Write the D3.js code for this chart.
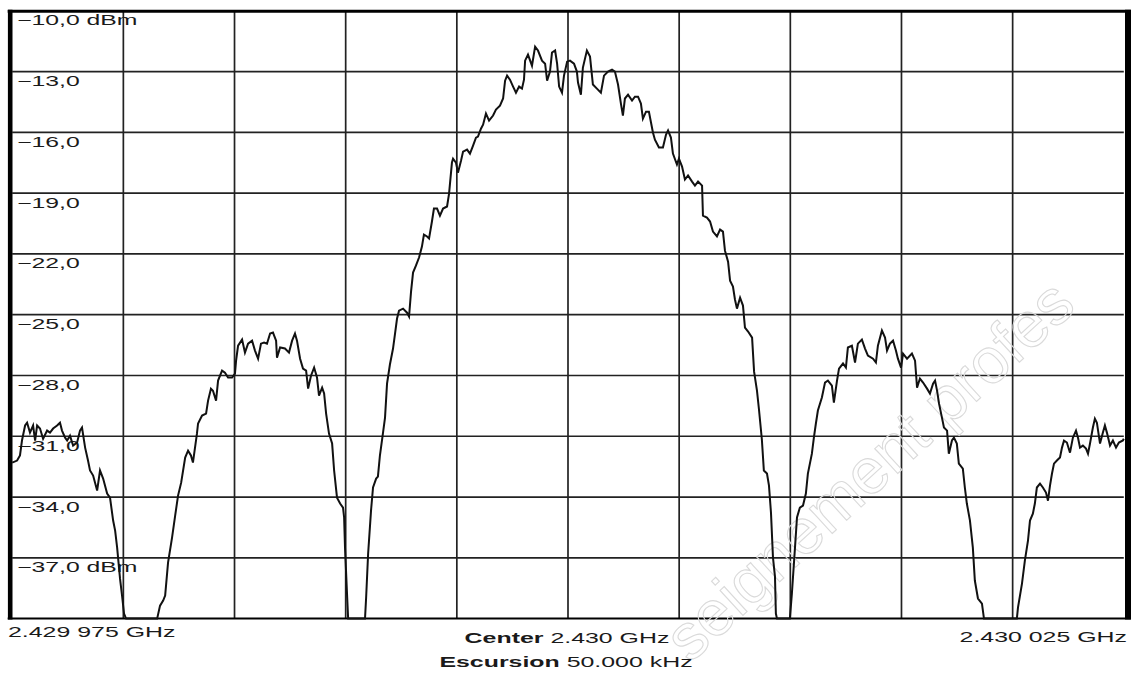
<!DOCTYPE html>
<html>
<head>
<meta charset="utf-8">
<script src="https://cdn.jsdelivr.net/npm/d3@7"></script>
<style>
    body { margin: 0; background: #fff; }
    svg text { font-family: "Liberation Sans", Arial, sans-serif; fill: #1a1a1a; }
</style>
</head>
<body>
<div id="carta"></div>
<script>
// sweep: offset from center in kHz, level in dBm
let freqKHz = [
    -25.00,-24.78,-24.65,-24.56,-24.42,-24.33,-24.20,-24.06,-23.97,-23.88,
    -23.75,-23.61,-23.43,-23.30,-23.16,-22.98,-22.85,-22.76,-22.62,-22.53,
    -22.40,-22.26,-22.08,-21.95,-21.86,-21.72,-21.59,-21.50,-21.36,-21.18,
    -21.05,-20.91,-20.73,-20.60,-20.46,-20.37,-20.28,-20.15,-20.06,-19.97,
    -19.88,-18.48,-18.35,-18.21,-18.12,-17.99,-17.81,-17.67,-17.54,-17.40,
    -17.22,-17.09,-16.96,-16.87,-16.69,-16.64,-16.46,-16.28,-16.19,-16.06,
    -15.97,-15.83,-15.74,-15.56,-15.43,-15.29,-15.11,-14.98,-14.93,-14.84,
    -14.66,-14.53,-14.39,-14.21,-14.08,-13.94,-13.81,-13.67,-13.54,-13.40,
    -13.27,-13.13,-13.09,-12.95,-12.73,-12.55,-12.41,-12.28,-12.19,-12.05,
    -11.92,-11.78,-11.69,-11.56,-11.42,-11.29,-11.20,-11.06,-10.97,-10.88,
    -10.75,-10.61,-10.52,-10.39,-10.25,-10.12,-10.07,-10.03,-9.94,-9.89,
    -9.13,-9.08,-8.99,-8.86,-8.77,-8.63,-8.55,-8.46,-8.32,-8.23,
    -8.14,-8.01,-7.87,-7.78,-7.69,-7.60,-7.42,-7.24,-7.15,-7.06,
    -6.97,-6.84,-6.70,-6.57,-6.48,-6.34,-6.25,-6.12,-6.03,-5.89,
    -5.76,-5.62,-5.44,-5.35,-5.22,-5.17,-5.04,-4.95,-4.81,-4.72,
    -4.54,-4.41,-4.27,-4.14,-4.05,-3.91,-3.82,-3.69,-3.55,-3.37,
    -3.24,-3.06,-2.92,-2.83,-2.74,-2.61,-2.47,-2.34,-2.20,-2.07,
    -1.98,-1.93,-1.80,-1.62,-1.48,-1.35,-1.17,-1.03,-0.94,-0.81,
    -0.72,-0.58,-0.49,-0.40,-0.27,-0.18,-0.04,0.09,0.27,0.40,
    0.45,0.58,0.67,0.85,0.99,1.12,1.30,1.48,1.62,1.80,
    1.98,2.11,2.25,2.38,2.47,2.56,2.70,2.88,3.01,3.15,
    3.28,3.37,3.51,3.64,3.82,3.91,4.09,4.27,4.41,4.50,
    4.63,4.72,4.90,4.99,5.13,5.26,5.40,5.58,5.71,5.85,
    6.03,6.07,6.25,6.39,6.52,6.70,6.84,6.97,7.06,7.20,
    7.29,7.42,7.51,7.60,7.74,7.87,7.96,8.10,8.28,8.37,
    8.50,8.59,8.72,8.81,8.95,9.04,9.13,9.22,9.31,9.35,
    9.40,9.98,10.07,10.21,10.30,10.43,10.57,10.70,10.79,10.97,
    11.06,11.15,11.24,11.42,11.56,11.69,11.87,11.96,12.10,12.19,
    12.37,12.50,12.59,12.77,12.91,13.04,13.22,13.36,13.49,13.72,
    13.85,13.94,14.12,14.26,14.35,14.48,14.62,14.75,14.84,14.98,
    15.07,15.25,15.47,15.61,15.70,15.83,15.97,16.15,16.28,16.42,
    16.51,16.60,16.69,16.82,16.91,17.05,17.13,17.27,17.36,17.49,
    17.58,17.76,17.85,17.94,18.08,18.21,18.30,18.44,18.62,18.71,
    20.19,20.24,20.42,20.55,20.69,20.78,20.91,21.00,21.09,21.23,
    21.36,21.50,21.59,21.68,21.77,21.86,21.99,22.13,22.22,22.31,
    22.44,22.58,22.71,22.85,22.94,23.03,23.16,23.30,23.39,23.48,
    23.61,23.70,23.79,23.93,24.06,24.15,24.24,24.38,24.51,24.65,
    24.78,24.96,25.00
]
let levelDbm = [
    -32.30,-32.20,-31.95,-31.21,-30.47,-30.33,-30.82,-30.47,-31.21,-30.47,
    -30.62,-31.12,-30.72,-30.82,-30.62,-30.47,-30.33,-30.72,-31.07,-31.21,
    -30.97,-31.46,-31.31,-30.72,-30.57,-31.56,-32.20,-32.69,-32.94,-33.68,
    -32.69,-33.09,-33.83,-34.03,-35.16,-35.66,-36.50,-38.03,-38.86,-39.75,
    -40.00,-40.00,-39.36,-39.11,-38.86,-37.24,-36.00,-34.92,-33.93,-33.29,
    -32.05,-31.71,-31.95,-32.30,-30.87,-30.37,-29.98,-29.88,-29.24,-28.65,
    -28.75,-29.24,-28.25,-27.76,-27.86,-28.10,-28.10,-27.91,-27.27,-26.53,
    -26.23,-26.87,-26.43,-26.28,-26.77,-27.17,-26.43,-26.38,-26.43,-25.93,
    -25.88,-26.28,-27.12,-26.62,-26.67,-26.87,-26.28,-25.93,-26.28,-27.17,
    -27.66,-27.76,-28.65,-28.01,-27.61,-28.10,-28.99,-28.60,-28.89,-29.88,
    -30.87,-31.36,-32.69,-34.03,-34.32,-34.52,-35.01,-36.50,-38.77,-40.00,
    -40.00,-38.96,-36.79,-34.67,-33.53,-33.09,-32.99,-31.95,-30.82,-30.08,
    -28.40,-27.46,-26.67,-25.93,-25.19,-24.80,-24.70,-24.90,-25.09,-23.86,
    -22.92,-22.58,-22.18,-21.64,-21.05,-21.14,-21.24,-20.40,-19.76,-19.76,
    -20.11,-19.76,-19.66,-19.02,-17.49,-17.30,-17.49,-17.99,-17.39,-16.95,
    -16.85,-17.05,-16.65,-16.26,-16.21,-15.81,-15.62,-15.07,-15.42,-15.17,
    -14.88,-14.68,-14.33,-13.45,-13.20,-13.40,-13.74,-14.04,-13.74,-13.84,
    -13.40,-12.46,-12.16,-12.71,-11.77,-11.96,-12.46,-12.61,-13.45,-13.00,
    -12.06,-11.96,-12.61,-13.74,-14.04,-13.20,-12.51,-12.46,-12.61,-13.00,
    -13.54,-14.14,-12.80,-11.96,-12.26,-13.64,-13.84,-14.04,-13.20,-13.00,
    -12.90,-13.00,-13.64,-14.58,-15.17,-14.33,-14.14,-14.43,-14.24,-14.24,
    -14.58,-15.32,-14.98,-14.98,-16.01,-16.36,-16.75,-16.75,-16.11,-15.91,
    -16.26,-17.05,-17.59,-17.30,-17.69,-18.33,-18.13,-18.43,-18.63,-18.43,
    -18.63,-20.11,-20.21,-20.40,-20.90,-21.14,-20.80,-20.90,-21.84,-22.38,
    -23.32,-23.61,-24.25,-24.70,-24.16,-24.55,-25.64,-25.83,-26.13,-27.81,
    -28.75,-29.68,-31.16,-32.69,-32.84,-33.44,-34.77,-36.99,-37.93,-39.75,
    -40.00,-40.00,-38.77,-36.50,-35.01,-34.52,-34.42,-33.83,-32.84,-31.86,
    -31.07,-30.37,-29.73,-29.09,-28.35,-28.25,-28.50,-29.34,-28.25,-27.66,
    -27.41,-27.61,-26.62,-26.53,-27.36,-26.43,-26.23,-26.67,-27.02,-27.17,
    -27.36,-26.53,-25.78,-26.13,-26.77,-26.43,-26.28,-26.77,-27.17,-27.61,
    -26.92,-27.17,-26.92,-27.27,-28.60,-28.15,-28.35,-28.65,-28.89,-28.40,
    -28.25,-28.75,-29.39,-30.08,-30.57,-30.72,-31.86,-31.21,-31.07,-31.36,
    -32.35,-32.60,-33.53,-34.32,-35.16,-36.50,-38.12,-39.01,-39.26,-40.00,
    -40.00,-39.46,-38.27,-37.14,-36.15,-35.16,-34.82,-34.32,-33.53,-33.34,
    -33.53,-33.78,-34.18,-33.44,-32.84,-32.35,-32.20,-32.05,-31.56,-31.21,
    -31.31,-31.81,-31.07,-30.72,-31.07,-31.56,-31.46,-31.61,-31.86,-31.36,
    -30.57,-30.13,-30.33,-31.36,-30.82,-30.47,-30.82,-31.46,-31.21,-31.56,
    -31.31,-31.21,-31.12
]
let yTicks = [-10, -13, -16, -19, -22, -25, -28, -31, -34, -37]
let yTickLabels = ["\u221210,0 dBm", "\u221213,0", "\u221216,0", "\u221219,0", "\u221222,0",
                   "\u221225,0", "\u221228,0", "\u221231,0", "\u221234,0", "\u221237,0 dBm"]
let xGrid = [-20, -15, -10, -5, 0, 5, 10, 15, 20]
let yGrid = [-13, -16, -19, -22, -25, -28, -31, -34, -37]
let startLabel = "2.429 975 GHz"
let stopLabel = "2.430 025 GHz"
let centerLabel = ["Center", " 2.430 GHz"]
let spanLabel = ["Escursion", " 50.000 kHz"]
let watermark = "seignement profes"

let data = freqKHz.map((f, i) => ({f: f, v: levelDbm[i]}))

let svg = d3.select("#carta")
    .append("svg")
        .attr("width", 1136)
        .attr("height", 675)
        .style("display", "block")

svg.append("rect")
    .attr("width", 1136)
    .attr("height", 675)
    .attr("fill", "#fff")

let xScale = d3.scaleLinear().domain([-25, 25]).range([12.2, 1123.8])
let yScale = d3.scaleLinear().domain([-10, -40]).range([10.8, 618.6])

// grid
svg.append("g")
    .selectAll("line")
    .data(xGrid)
    .enter()
    .append("line")
        .attr("x1", d => xScale(d))
        .attr("x2", d => xScale(d))
        .attr("y1", yScale(-10))
        .attr("y2", yScale(-40))
        .attr("stroke", "#222")
        .attr("stroke-width", 1.7)

svg.append("g")
    .selectAll("line")
    .data(yGrid)
    .enter()
    .append("line")
        .attr("x1", xScale(-25))
        .attr("x2", xScale(25))
        .attr("y1", d => yScale(d))
        .attr("y2", d => yScale(d))
        .attr("stroke", "#222")
        .attr("stroke-width", 1.7)

// frame
let frame = svg.append("g").attr("stroke", "#000")
frame.append("line")
    .attr("x1", xScale(-25) - 4.5).attr("x2", xScale(25) + 7)
    .attr("y1", yScale(-10) + 0.5).attr("y2", yScale(-10) + 0.5)
    .attr("stroke-width", 3)
frame.append("line")
    .attr("x1", xScale(-25) - 4.5).attr("x2", xScale(25) + 7)
    .attr("y1", yScale(-40)).attr("y2", yScale(-40))
    .attr("stroke-width", 2)
frame.append("line")
    .attr("x1", xScale(-25) - 2).attr("x2", xScale(-25) - 2)
    .attr("y1", yScale(-10) - 1).attr("y2", yScale(-40) + 1)
    .attr("stroke-width", 4.6)
frame.append("line")
    .attr("x1", xScale(25) + 4.2).attr("x2", xScale(25) + 4.2)
    .attr("y1", yScale(-10) - 1).attr("y2", yScale(-40) + 1)
    .attr("stroke-width", 6)

// watermark
svg.append("text")
    .attr("transform", "translate(690,664) rotate(-42.5)")
    .style("font-size", "64px")
    .style("fill", "none")
    .style("stroke", "#dadada")
    .style("stroke-width", 1.1)
    .text(watermark)

// y labels
svg.append("g")
    .selectAll("text")
    .data(yTicks)
    .enter()
    .append("text")
        .attr("transform", (d, i) => "translate(17," + (yScale(d) + 14.5) + ") scale(1.77,1)")
        .style("font-size", "14px")
        .text((d, i) => yTickLabels[i])

// trace
let line = d3.line()
    .x(d => xScale(d.f))
    .y(d => yScale(d.v))

svg.append("path")
    .datum(data)
    .attr("d", line)
    .attr("fill", "none")
    .attr("stroke", "#111")
    .attr("stroke-width", 2)

// bottom labels
svg.append("text")
    .attr("transform", "translate(8,637) scale(1.66,1)")
    .style("font-size", "15px")
    .text(startLabel)

svg.append("text")
    .attr("transform", "translate(1127,642) scale(1.66,1)")
    .attr("text-anchor", "end")
    .style("font-size", "15px")
    .text(stopLabel)

let c = svg.append("text")
    .attr("transform", "translate(567,643) scale(1.66,1)")
    .attr("text-anchor", "middle")
    .style("font-size", "15px")
c.append("tspan").style("font-weight", "bold").text(centerLabel[0])
c.append("tspan").text(centerLabel[1])

let s = svg.append("text")
    .attr("transform", "translate(566,667) scale(1.66,1)")
    .attr("text-anchor", "middle")
    .style("font-size", "15px")
s.append("tspan").style("font-weight", "bold").text(spanLabel[0])
s.append("tspan").text(spanLabel[1])
</script>
</body>
</html>
